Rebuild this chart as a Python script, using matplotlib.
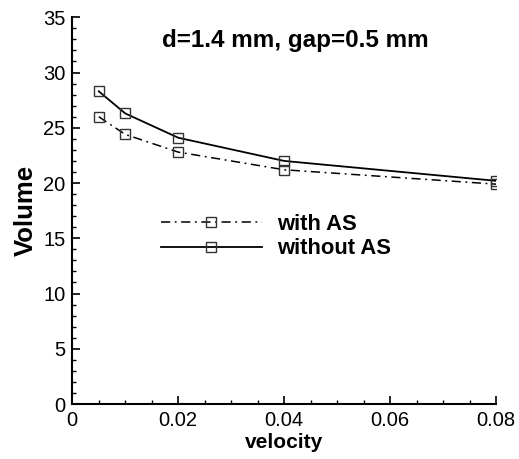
import matplotlib
matplotlib.use("Agg")
import matplotlib.pyplot as plt
from matplotlib.ticker import MultipleLocator, FuncFormatter

velocity = [0.005, 0.01, 0.02, 0.04, 0.08]
vol_with_as = [26.0, 24.4, 22.8, 21.2, 19.9]
vol_without_as = [28.3, 26.3, 24.1, 22.0, 20.2]
labels = ["with AS", "without AS"]
title = "d=1.4 mm, gap=0.5 mm"

plt.rcParams['font.family'] = ['Liberation Sans', 'DejaVu Sans']

fig = plt.figure(figsize=(5.19, 4.59), dpi=100)
ax = fig.add_axes([0.1393, 0.1198, 0.8164, 0.8425])

mk = dict(marker='s', markersize=7.5, markerfacecolor='none',
          markeredgecolor='#333333', markeredgewidth=1.0)
ax.plot(velocity, vol_with_as, color='black', lw=1.1,
        linestyle=(0, (6, 3, 1.2, 3)), label=labels[0], **mk)
ax.plot(velocity, vol_without_as, color='black', lw=1.3,
        linestyle='-', label=labels[1], **mk)

ax.set_xlim(0, 0.08)
ax.set_ylim(0, 35)
ax.xaxis.set_major_locator(MultipleLocator(0.02))
ax.xaxis.set_minor_locator(MultipleLocator(0.005))
ax.yaxis.set_major_locator(MultipleLocator(5))
ax.yaxis.set_minor_locator(MultipleLocator(1))
ax.xaxis.set_major_formatter(FuncFormatter(
    lambda v, p: "0" if abs(v) < 1e-12 else f"{v:.2f}"))

for s in ['top', 'right']:
    ax.spines[s].set_visible(False)
for s in ['left', 'bottom']:
    ax.spines[s].set_linewidth(1.5)

ax.tick_params(which='major', direction='in', length=6, width=1.2,
               labelsize=14.5, pad=5)
ax.tick_params(which='minor', direction='in', length=3.2, width=1.0)

ax.set_xlabel("velocity", fontsize=15, fontweight='bold', labelpad=2)
ax.set_ylabel("Volume", fontsize=18.5, fontweight='bold', labelpad=4)

ax.text(0.526, 0.939, title, transform=ax.transAxes, ha='center',
        va='center', fontsize=17.5, fontweight='bold')

ax.legend(loc='upper left', bbox_to_anchor=(0.2086, 0.492), frameon=False,
          numpoints=1, handlelength=4.6, handletextpad=0.7,
          labelspacing=0.17, borderpad=0, borderaxespad=0,
          prop={'size': 15.8, 'weight': 'bold'})

fig.savefig("out.png", dpi=100)
